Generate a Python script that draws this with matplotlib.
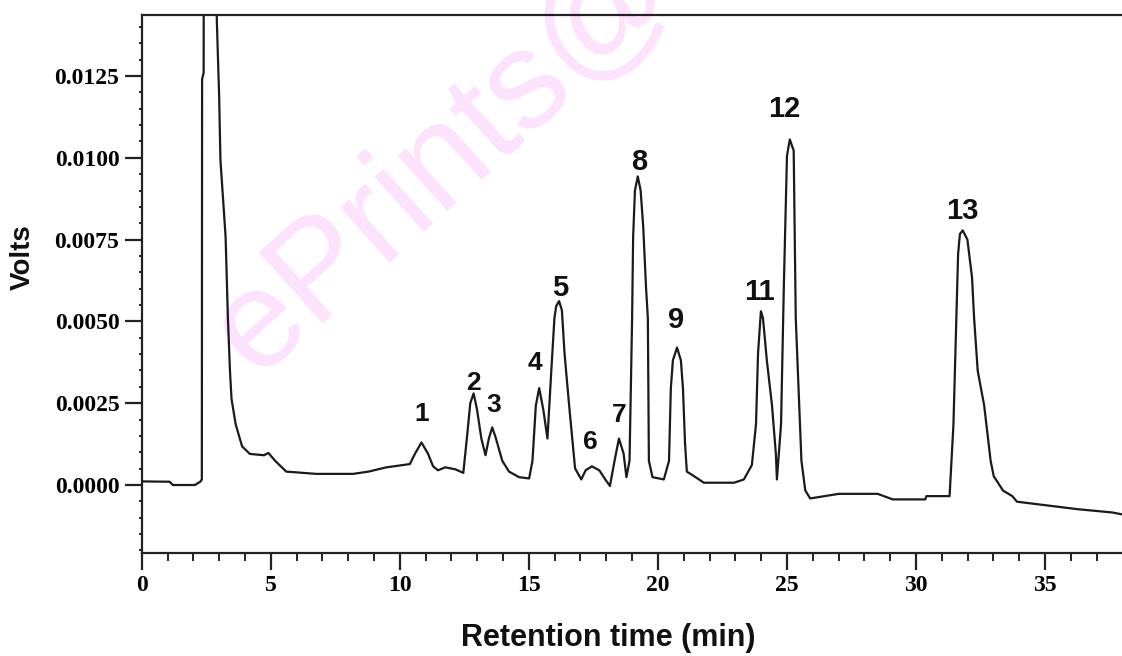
import matplotlib
matplotlib.use("Agg")
import matplotlib.pyplot as plt
from matplotlib.ticker import MultipleLocator, FormatStrFormatter

# ---- data (time in min, signal in volts) ----
time_min = [0.00, 1.08, 1.21, 2.06, 2.27, 2.33, 2.34, 2.40, 2.42, 2.65, 2.88, 2.91,
            3.00, 3.05, 3.25, 3.34, 3.42, 3.48, 3.64, 3.89, 4.19, 4.74, 4.91, 5.17,
            5.60, 6.76, 8.19, 8.79, 9.48, 10.39, 10.59, 10.84, 11.09, 11.29, 11.48,
            11.76, 12.15, 12.46, 12.61, 12.73, 12.86, 12.99, 13.16, 13.32, 13.45,
            13.58, 13.71, 13.97, 14.23, 14.62, 15.01, 15.14, 15.27, 15.40, 15.56,
            15.72, 15.87, 15.99, 16.06, 16.17, 16.28, 16.38, 16.56, 16.67, 16.79,
            17.03, 17.20, 17.44, 17.73, 17.96, 18.14, 18.32, 18.49, 18.67, 18.78,
            18.90, 19.00, 19.04, 19.11, 19.22, 19.33, 19.43, 19.54, 19.61, 19.65,
            19.79, 20.23, 20.43, 20.50, 20.58, 20.74, 20.89, 20.97, 21.05, 21.12,
            21.40, 21.78, 22.95, 23.33, 23.64, 23.80, 23.88, 23.99, 24.07, 24.22,
            24.42, 24.57, 24.61, 24.77, 24.88, 25.00, 25.11, 25.26, 25.34, 25.45,
            25.56, 25.71, 25.90, 27.01, 28.51, 29.10, 30.36, 30.40, 31.30, 31.45,
            31.56, 31.63, 31.70, 31.81, 31.99, 32.17, 32.25, 32.39, 32.64, 32.89,
            33.01, 33.37, 33.73, 33.91, 34.93, 36.27, 37.61, 38.00]
volts = [0.00011, 0.00010, 0.00000, 0.00000, 0.00010, 0.00017, 0.01240, 0.01260,
         0.03000, 0.04500, 0.03000, 0.01420, 0.01190, 0.00994, 0.00759, 0.00510,
         0.00349, 0.00263, 0.00186, 0.00118, 0.00095, 0.00091, 0.00098, 0.00074,
         0.00041, 0.00034, 0.00034, 0.00041, 0.00054, 0.00064, 0.00096, 0.00130,
         0.00096, 0.00057, 0.00045, 0.00054, 0.00048, 0.00037, 0.00152, 0.00250,
         0.00280, 0.00231, 0.00142, 0.00091, 0.00142, 0.00176, 0.00146, 0.00074,
         0.00041, 0.00024, 0.00020, 0.00074, 0.00243, 0.00296, 0.00230, 0.00142,
         0.00350, 0.00510, 0.00547, 0.00562, 0.00534, 0.00404, 0.00243, 0.00152,
         0.00051, 0.00017, 0.00045, 0.00057, 0.00045, 0.00017, -0.00003, 0.00074,
         0.00142, 0.00096, 0.00024, 0.00074, 0.00510, 0.00759, 0.00900, 0.00943,
         0.00900, 0.00790, 0.00603, 0.00510, 0.00074, 0.00024, 0.00017, 0.00074,
         0.00295, 0.00381, 0.00420, 0.00381, 0.00295, 0.00128, 0.00041, 0.00027,
         0.00007, 0.00007, 0.00017, 0.00061, 0.00186, 0.00404, 0.00531, 0.00510,
         0.00381, 0.00243, 0.00095, 0.00017, 0.00186, 0.00613, 0.01006, 0.01056,
         0.01022, 0.00510, 0.00295, 0.00074, -0.00017, -0.00041, -0.00027, -0.00027,
         -0.00044, -0.00044, -0.00034, -0.00034, 0.00186, 0.00510, 0.00706, 0.00767,
         0.00778, 0.00750, 0.00634, 0.00510, 0.00349, 0.00243, 0.00074, 0.00027,
         -0.00017, -0.00034, -0.00051, -0.00061, -0.00074, -0.00084, -0.00090]

peak_labels = ["1", "2", "3", "4", "5", "6", "7", "8", "9", "11", "12", "13"]
peak_label_t = [10.84, 12.86, 13.62, 15.25, 16.20, 17.38, 18.51, 19.26, 20.70, 23.95, 24.88, 31.81]
peak_label_v = [0.00217, 0.00312, 0.00245, 0.00373, 0.00602, 0.00131, 0.00214, 0.00987,
                0.00504, 0.00590, 0.01149, 0.00837]
big_labels = {"5", "8", "9"}
wide_labels = {"11", "12", "13"}

x_ticks = [0, 5, 10, 15, 20, 25, 30, 35]
y_ticks = [0.0, 0.0025, 0.0050, 0.0075, 0.0100, 0.0125]

W, H = 1122, 656
fig = plt.figure(figsize=(W / 100, H / 100), dpi=100)
ax = fig.add_axes([141.7 / W, 1 - 553 / H, 1 - 141.7 / W, (553 - 15) / H])
ax.set_facecolor("none")

# watermark
fig.text(445 / W, 1 - 160 / H, "ePrints@", fontsize=100, color="#fce2fc",
         rotation=42, ha="center", va="center", family="Liberation Sans", zorder=-5)

ax.plot(time_min, volts, color="#1a1a1a", lw=1.6, zorder=3)

ax.set_xlim(0, 37.98)
ax.set_ylim(-0.002078, 0.014364)

ax.set_xticks(x_ticks)
ax.xaxis.set_minor_locator(MultipleLocator(1))
ax.set_yticks(y_ticks)
ax.yaxis.set_minor_locator(MultipleLocator(0.0005))
ax.yaxis.set_major_formatter(FormatStrFormatter("%.4f"))

for lab in ax.get_xticklabels() + ax.get_yticklabels():
    lab.set_fontfamily("Liberation Serif")
    lab.set_fontweight("bold")
    lab.set_fontsize(17)
ax.tick_params(axis="both", which="major", direction="out", length=12, width=1.6,
               color="#222222", pad=4)
ax.tick_params(axis="both", which="minor", direction="out", length=6, width=1.4,
               color="#222222")
ax.tick_params(axis="y", which="minor", length=2)

for side in ["left", "bottom", "top"]:
    ax.spines[side].set_linewidth(1.6)
    ax.spines[side].set_color("#222222")
ax.spines["right"].set_visible(False)

for lab, t, v in zip(peak_labels, peak_label_t, peak_label_v):
    if lab in wide_labels:
        ax.text(t, v, lab, ha="center", va="center", fontsize=21, fontweight="bold",
                family=["Liberation Sans"], color="#111111", zorder=4)
    else:
        size = 21 if lab in big_labels else 19
        ax.text(t, v, lab, ha="center", va="center", fontsize=size, fontweight="bold",
                family=["Liberation Sans Narrow", "Liberation Sans"], color="#111111",
                zorder=4)

fig.text(608 / W, 1 - 638 / H, "Retention time (min)", ha="center", va="center",
         fontsize=22, fontweight="bold", family="Liberation Sans", color="#111111")
fig.text(23 / W, 1 - 257 / H, "Volts", ha="center", va="center", rotation=90,
         fontsize=20, fontweight="bold", family="Liberation Sans", color="#111111")

fig.savefig("out.png", dpi=100)
